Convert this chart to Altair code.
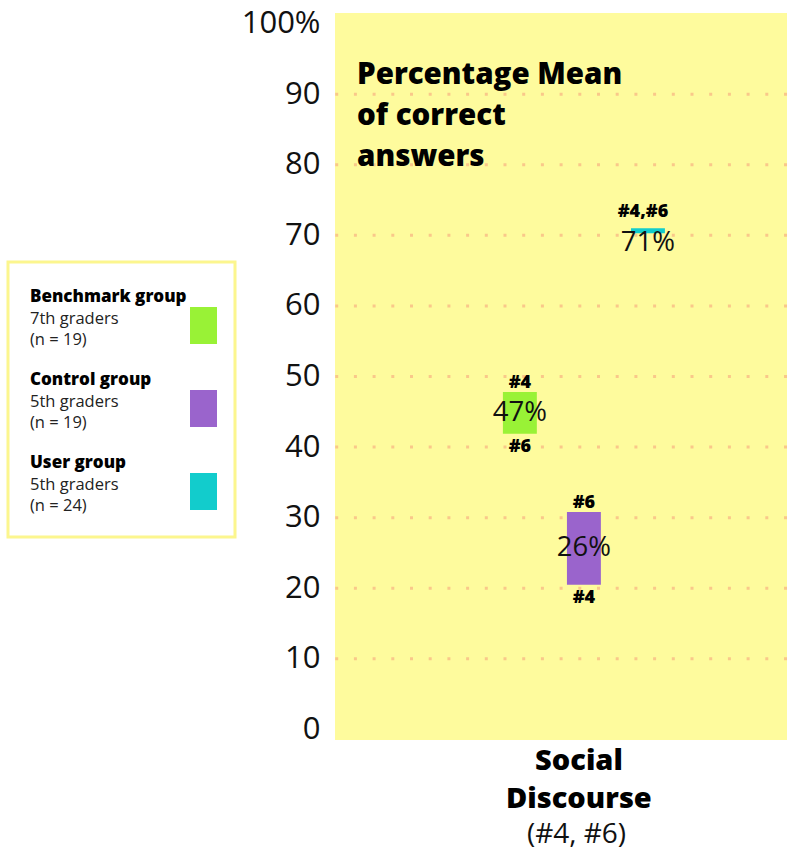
import altair as alt
import pandas as pd

# ---- data ----
groups = ["Benchmark group", "Control group", "User group"]
grades = ["7th graders", "5th graders", "5th graders"]
sizes = ["(n = 19)", "(n = 19)", "(n = 24)"]
colors = ["#99f236", "#9a64cc", "#12cccc"]
category = "Social Discourse"
category_note = "(#4, #6)"
low_values = [41.9, 20.5, 70.3]
high_values = [47.8, 30.8, 71.0]
mean_values = [47, 26, 71]
top_labels = ["#4", "#6", "#4,#6"]
bottom_labels = ["#6", "#4", ""]
y_ticks = [0, 10, 20, 30, 40, 50, 60, 70, 80, 90, 100]
grid_values = [10, 20, 30, 40, 50, 60, 70, 80, 90]
chart_title = "Percentage Mean\nof correct\nanswers"

FONT = "Open Sans"
W, H = 452, 727

df = pd.DataFrame({
    "category": [category] * 3,
    "group": groups,
    "grade": grades,
    "n": sizes,
    "low": low_values,
    "high": high_values,
    "mean": mean_values,
    "top": top_labels,
    "bottom": bottom_labels,
})
grid_df = pd.DataFrame({"v": grid_values})

yscale = alt.Scale(domain=[-1.5, 101.5], nice=False, zero=False)
x_enc = alt.X(
    "category:N",
    scale=alt.Scale(paddingInner=0, paddingOuter=0.895, align=0.579),
    axis=alt.Axis(
        domain=False, ticks=False, labelAngle=0,
        labelExpr="split(datum.label, ' ')",
        labelFont=FONT, labelFontSize=29, labelFontWeight=800,
        labelColor="black", labelLineHeight=38, labelPadding=6, labelOffset=-5,
        titleFont=FONT, titleFontSize=28, titleFontWeight="normal",
        titleColor="#111", titlePadding=7, titleX=241,
    ),
    title=category_note,
)
xoff = alt.XOffset("group:N", scale=alt.Scale(domain=groups, paddingInner=0.47, paddingOuter=0))

base = alt.Chart(df)

grid = alt.Chart(grid_df).mark_rule(
    color="#f9c88a", strokeWidth=3, strokeDash=[3, 15.7]
).encode(
    y=alt.Y("v:Q", scale=yscale,
            axis=alt.Axis(values=y_ticks, domain=False, ticks=False, grid=False,
                          labelExpr="datum.value == 100 ? '100%' : datum.label",
                          labelFont=FONT, labelFontSize=31, labelColor="#111",
                          labelPadding=15),
            title=None)
)

bars = base.mark_bar().encode(
    x=x_enc, xOffset=xoff,
    y=alt.Y("low:Q", scale=yscale),
    y2="high:Q",
    color=alt.Color("group:N", scale=alt.Scale(domain=groups, range=colors), legend=None),
)

not_user = "datum.group != 'User group'"
is_user = "datum.group == 'User group'"

top_txt = base.transform_filter(not_user).mark_text(
    font=FONT, fontSize=18, fontWeight=800, baseline="alphabetic", dy=-4, color="black"
).encode(x=x_enc, xOffset=xoff, y=alt.Y("high:Q", scale=yscale), text="top:N")

bot_txt = base.transform_filter(not_user).mark_text(
    font=FONT, fontSize=18, fontWeight=800, baseline="top", dy=4, color="black"
).encode(x=x_enc, xOffset=xoff, y=alt.Y("low:Q", scale=yscale), text="bottom:N")

mean_txt = base.transform_filter(not_user).transform_calculate(
    mid="(datum.low + datum.high) / 2", lab="datum.mean + '%'"
).mark_text(font=FONT, fontSize=27.5, baseline="middle", color="#111").encode(
    x=x_enc, xOffset=xoff, y=alt.Y("mid:Q", scale=yscale), text="lab:N")

user_top = base.transform_filter(is_user).mark_text(
    font=FONT, fontSize=18, fontWeight=800, baseline="alphabetic", dy=-11, dx=-5, color="black"
).encode(x=x_enc, xOffset=xoff, y=alt.Y("high:Q", scale=yscale), text="top:N")

user_mean = base.transform_filter(is_user).transform_calculate(
    mid="(datum.low + datum.high) / 2", lab="datum.mean + '%'"
).mark_text(font=FONT, fontSize=27.5, baseline="middle", dy=12, color="#111").encode(
    x=x_enc, xOffset=xoff, y=alt.Y("mid:Q", scale=yscale), text="lab:N")

title_txt = alt.Chart(pd.DataFrame({"t": [chart_title]})).mark_text(
    font=FONT, fontSize=29.5, fontWeight=800, align="left", baseline="alphabetic",
    lineBreak="\n", lineHeight=41, color="black"
).encode(x=alt.value(22), y=alt.value(71), text="t:N")

main = alt.layer(grid, bars, top_txt, bot_txt, mean_txt, user_top, user_mean, title_txt)

# ---- legend (drawn to the left of the axis) ----
leg_y = alt.Y("group:N", scale=alt.Scale(type="point", domain=groups, range=[284, 450], padding=0), axis=None)

leg_box = alt.Chart(pd.DataFrame({"b": [1]})).mark_rect(
    fill="white", stroke="#fcf68e", strokeWidth=3
).encode(x=alt.value(-327), x2=alt.value(-100), y=alt.value(249), y2=alt.value(524))

leg_name = base.mark_text(font=FONT, fontSize=17, fontWeight=800, align="left",
                          baseline="middle", color="black").encode(
    x=alt.value(-305), y=leg_y, text="group:N")
leg_grade = base.mark_text(font=FONT, fontSize=16.5, align="left", baseline="middle",
                           dy=22, color="#222").encode(
    x=alt.value(-305), y=leg_y, text="grade:N")
leg_n = base.mark_text(font=FONT, fontSize=16.5, align="left", baseline="middle",
                       dy=43, color="#222").encode(
    x=alt.value(-305), y=leg_y, text="n:N")
leg_sw = base.mark_point(
    shape="M-1,-1.37L1,-1.37L1,1.37L-1,1.37Z", size=729, filled=True, opacity=1, strokeWidth=0
).encode(
    x=alt.value(-131.5), y=leg_y, yOffset=alt.value(28.5),
    color=alt.Color("group:N", scale=alt.Scale(domain=groups, range=colors), legend=None),
)

legend = alt.layer(leg_box, leg_name, leg_grade, leg_n, leg_sw)

chart = alt.layer(main, legend).resolve_scale(y="independent").properties(
    width=W, height=H,
    autosize=alt.AutoSizeParams(type="none"),
    padding={"left": 335, "top": 13, "right": 0, "bottom": 119},
).configure_view(fill="#fefb9d", stroke=None)

chart.save("out.html", embed_options={"renderer": "svg", "actions": False})
